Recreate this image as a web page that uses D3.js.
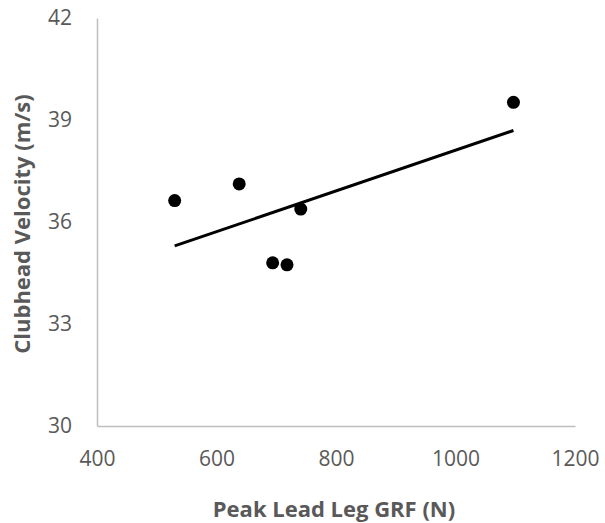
<!DOCTYPE html>
<html>
<head>
<meta charset="utf-8">
<script src="https://cdn.jsdelivr.net/npm/d3@7"></script>
<style>
  body { margin: 0; background: #fff; }
  text { font-family: "Open Sans", sans-serif; }
</style>
</head>
<body>
<div id="chart"></div>
<script>
// data
var grf = [530, 638, 694, 718, 741, 1097];
var velocity = [36.63, 37.12, 34.80, 34.74, 36.38, 39.52];
var xTicks = [400, 600, 800, 1000, 1200];
var yTicks = [30, 33, 36, 39, 42];

var margin = { top: 18, right: 30, bottom: 97, left: 97 },
    width = 605 - margin.left - margin.right,
    height = 523 - margin.top - margin.bottom;

var x = d3.scaleLinear().domain([400, 1200]).range([0, width]);
var y = d3.scaleLinear().domain([30, 42]).range([height, 0]);

var svg = d3.select("#chart").append("svg")
    .attr("width", 605)
    .attr("height", 523)
    .append("g")
    .attr("transform", "translate(" + margin.left + "," + margin.top + ")");

// axes
var xAxis = svg.append("g")
    .attr("transform", "translate(0," + height + ")")
    .call(d3.axisBottom(x).tickValues(xTicks).tickFormat(d3.format("d")).tickSize(0).tickPadding(25));
var yAxis = svg.append("g")
    .call(d3.axisLeft(y).tickValues(yTicks).tickFormat(d3.format("d")).tickSize(0).tickPadding(25));

[xAxis, yAxis].forEach(function (a) {
    a.select(".domain").attr("stroke", "#bfbfbf").attr("stroke-width", 1.5);
    a.selectAll("text")
        .attr("fill", "#595959")
        .style("font-size", "21px")
        .style("font-family", "'Open Sans', sans-serif");
});

// linear trend line
var data = grf.map(function (d, i) { return { x: d, y: velocity[i] }; });
var mx = d3.mean(grf), my = d3.mean(velocity);
var sxy = d3.sum(data, function (d) { return (d.x - mx) * (d.y - my); });
var sxx = d3.sum(data, function (d) { return (d.x - mx) * (d.x - mx); });
var slope = sxy / sxx, icpt = my - slope * mx;
var x0 = d3.min(grf), x1 = d3.max(grf);

svg.append("line")
    .attr("x1", x(x0)).attr("y1", y(icpt + slope * x0))
    .attr("x2", x(x1)).attr("y2", y(icpt + slope * x1))
    .attr("stroke", "#000")
    .attr("stroke-width", 3);

// points
svg.selectAll(".dot")
    .data(data)
    .enter().append("circle")
    .attr("class", "dot")
    .attr("cx", function (d) { return x(d.x); })
    .attr("cy", function (d) { return y(d.y); })
    .attr("r", 6.5)
    .attr("fill", "#000");

// axis titles
svg.append("text")
    .attr("x", width / 2 - 2)
    .attr("y", height + 91)
    .attr("text-anchor", "middle")
    .attr("fill", "#595959")
    .style("font-size", "22px")
    .style("font-weight", "bold")
    .text("Peak Lead Leg GRF (N)");

svg.append("text")
    .attr("transform", "translate(" + (-67) + "," + (y(36) + 2) + ") rotate(-90)")
    .attr("text-anchor", "middle")
    .attr("fill", "#595959")
    .style("font-size", "22px")
    .style("font-weight", "bold")
    .text("Clubhead Velocity (m/s)");
</script>
</body>
</html>
